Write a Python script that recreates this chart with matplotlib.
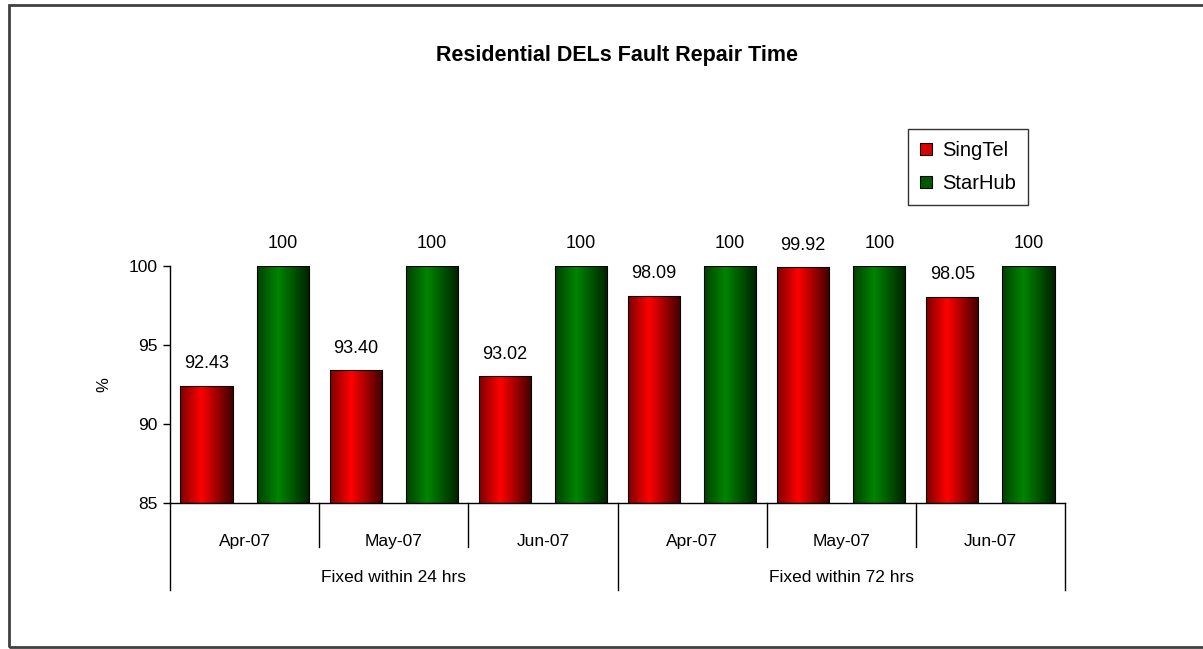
import numpy as np
import matplotlib
matplotlib.use("Agg")
import matplotlib.pyplot as plt
from matplotlib.patches import Rectangle, Patch
from matplotlib.transforms import blended_transform_factory

plt.rcParams["font.family"] = ["Liberation Sans", "DejaVu Sans"]

# data
months = ["Apr-07", "May-07", "Jun-07", "Apr-07", "May-07", "Jun-07"]
groups = ["Fixed within 24 hrs", "Fixed within 72 hrs"]
singtel = [92.43, 93.40, 93.02, 98.09, 99.92, 98.05]
starhub = [100, 100, 100, 100, 100, 100]
series_names = ["SingTel", "StarHub"]

W, H = 1203, 649
fig = plt.figure(figsize=(W / 100, H / 100), dpi=100)
ax = fig.add_axes([170 / W, 1 - 503 / H, 895 / W, 237 / H])

# outer chart border
fig.patches.append(Rectangle((9 / W, 2 / H), 1.2, 1 - 7 / H, transform=fig.transFigure,
                             fill=False, edgecolor="#404040", linewidth=2))


def gradient(base):
    # cylinder-like horizontal shading, bright left of centre
    t = np.linspace(0, 1, 64)
    k = np.interp(t, [0, 0.4, 1], [0.5, 1.0, 0.25])
    img = np.zeros((1, 64, 3))
    for i in range(3):
        img[0, :, i] = base[i] * k
    return img


x = np.arange(len(months))
width = 0.35
off = 0.255
colors = [(1.0, 0.0, 0.0), (0.0, 0.52, 0.0)]

for vals, dx, col in [(singtel, -off, colors[0]), (starhub, off, colors[1])]:
    bars = ax.bar(x + dx, [v - 85 for v in vals], width, bottom=85,
                  color="none", edgecolor="black", linewidth=0.8, zorder=3)
    img = gradient(col)
    for b, v in zip(bars, vals):
        x0 = b.get_x()
        im = ax.imshow(img, extent=[x0, x0 + width, 85, v], aspect="auto",
                       zorder=2, interpolation="bilinear")
        im.set_clip_path(b)
        lab = f"{v:.2f}" if col == colors[0] else f"{v:g}"
        ax.annotate(lab, (x0 + width / 2, v), xytext=(0, 16), textcoords="offset points",
                    ha="center", va="center", fontsize=13, annotation_clip=False)

ax.set_xlim(-0.5, len(months) - 0.5)
ax.set_ylim(85, 100)
ax.set_yticks([85, 90, 95, 100])
ax.tick_params(axis="y", direction="out", length=5, width=1, labelsize=12.5, pad=4)
ax.set_xticks(x)
ax.set_xticklabels(months, fontsize=12.5)
ax.tick_params(axis="x", length=0, pad=22)
for s in ["top", "right"]:
    ax.spines[s].set_visible(False)
ax.spines["left"].set_linewidth(1)
ax.spines["bottom"].set_linewidth(1)

ax.set_ylabel("%", fontsize=12, labelpad=12)

# category separators below the axis
tr = blended_transform_factory(ax.transData, ax.transAxes)
for i in range(len(months) + 1):
    xe = i - 0.5
    low = -0.367 if i % 3 == 0 else -0.186
    ax.plot([xe, xe], [0, low], color="black", lw=1, transform=tr, clip_on=False)
for g, name in enumerate(groups):
    ax.text(g * 3 + 1, -0.316, name, transform=tr, ha="center", va="center", fontsize=12.5)

fig.text(617 / W, 1 - 55 / H, "Residential DELs Fault Repair Time", ha="center", va="center",
         fontsize=15.5, fontweight="bold")

handles = [Patch(facecolor=c, edgecolor="black", linewidth=0.8) for c in
           [(0.85, 0, 0), (0.0, 0.35, 0.0)]]
fig.legend(handles, series_names, loc="upper left", bbox_to_anchor=(908 / W, 1 - 129 / H),
           fontsize=14.5, frameon=True, fancybox=False, edgecolor="black", borderaxespad=0,
           handlelength=0.6, handleheight=0.6, handletextpad=0.5, borderpad=0.6,
           labelspacing=0.7)

fig.savefig("out.png", dpi=100)
